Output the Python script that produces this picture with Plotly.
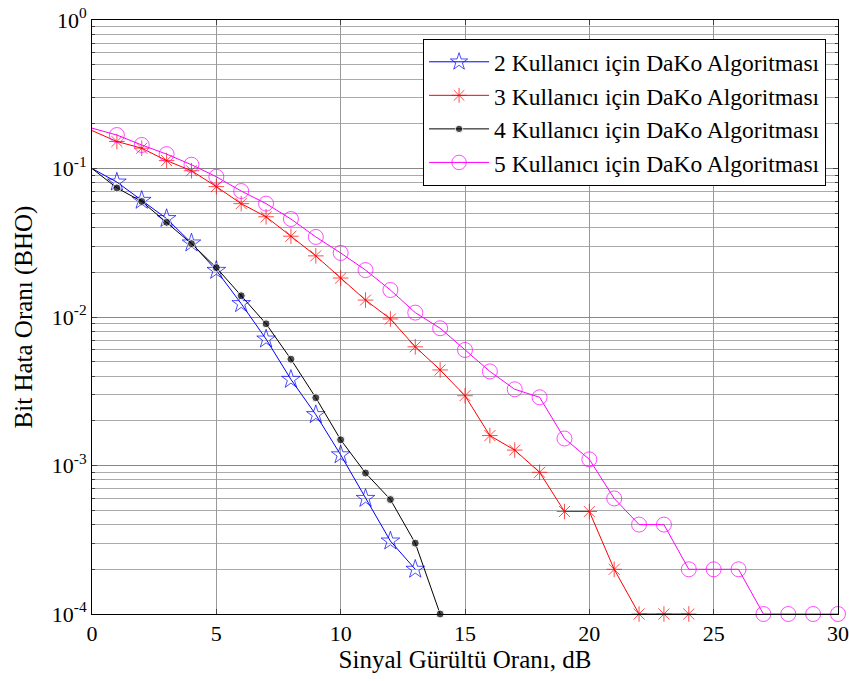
import plotly.graph_objects as go

snr_2 = list(range(0, 14))
ber_2 = [0.1, 0.081, 0.061, 0.046, 0.0315, 0.0206, 0.0123, 0.0071, 0.0038, 0.0022, 0.00118, 0.0006, 0.00031, 0.0002]

snr_3 = list(range(0, 25))
ber_3 = [0.18, 0.152, 0.137, 0.113, 0.0966, 0.0755, 0.058, 0.0473, 0.035, 0.0258, 0.0183, 0.013,
         0.0097, 0.0063, 0.0044, 0.00295, 0.00159, 0.00127, 0.0009, 0.00049, 0.00049, 0.0002,
         0.0001, 0.0001, 0.0001]

snr_4 = list(range(0, 15))
ber_4 = [0.1, 0.074, 0.060, 0.0434, 0.0312, 0.0215, 0.0139, 0.009, 0.0052, 0.00286, 0.00149,
         0.00089, 0.00059, 0.0003, 0.0001]

snr_5 = list(range(0, 31))
ber_5 = [0.187, 0.168, 0.144, 0.125, 0.106, 0.088, 0.0705, 0.058, 0.0457, 0.0346, 0.027, 0.0207,
         0.0152, 0.0107, 0.0084, 0.006, 0.0043, 0.00326, 0.00288, 0.00152, 0.0011, 0.0006, 0.0004,
         0.0004, 0.0002, 0.0002, 0.0002, 0.0001, 0.0001, 0.0001, 0.0001]

names = ["2 Kullanıcı için DaKo Algoritması", "3 Kullanıcı için DaKo Algoritması",
         "4 Kullanıcı için DaKo Algoritması", "5 Kullanıcı için DaKo Algoritması"]

x_ticks = [0, 5, 10, 15, 20, 25, 30]
y_ticks = [1e-4, 1e-3, 1e-2, 1e-1, 1]
y_ticktext = ["10<sup>-4</sup>", "10<sup>-3</sup>", "10<sup>-2</sup>", "10<sup>-1</sup>", "10<sup>0</sup>"]

FONT = "Liberation Serif, Times New Roman, serif"

def sizes(n, s):
    return [0] + [s] * (n - 1)

fig = go.Figure()
fig.add_trace(go.Scatter(x=snr_2, y=ber_2, name=names[0], mode="lines+markers",
                         line=dict(color="#0000ff", width=1),
                         marker=dict(symbol="star-open", size=sizes(len(snr_2), 14), color="#0000ff",
                                     line=dict(width=1)),
                         cliponaxis=False))
fig.add_trace(go.Scatter(x=snr_3, y=ber_3, name=names[1], mode="lines+markers",
                         line=dict(color="#ff0000", width=1),
                         marker=dict(symbol="asterisk-open", size=sizes(len(snr_3), 13), color="#ff0000",
                                     line=dict(width=1, color="#ff0000")),
                         cliponaxis=False))
fig.add_trace(go.Scatter(x=snr_4, y=ber_4, name=names[2], mode="lines+markers",
                         line=dict(color="#000000", width=1),
                         marker=dict(symbol="circle", size=sizes(len(snr_4), 8), color="#000000"),
                         cliponaxis=False))
fig.add_trace(go.Scatter(x=snr_5, y=ber_5, name=names[3], mode="lines+markers",
                         line=dict(color="#ff00ff", width=1),
                         marker=dict(symbol="circle-open", size=sizes(len(snr_5), 15), color="#ff00ff",
                                     line=dict(width=1)),
                         cliponaxis=False))

fig.update_layout(
    width=849, height=681,
    margin=dict(l=92, r=11, t=20, b=67, autoexpand=False),
    paper_bgcolor="white", plot_bgcolor="white",
    font=dict(family=FONT, size=22, color="black"),
    showlegend=True,
    legend=dict(x=0.984, y=0.968, xanchor="right", yanchor="top",
                bgcolor="white", bordercolor="black", borderwidth=1,
                font=dict(family=FONT, size=23.5), tracegroupgap=0, itemwidth=60),
)
fig.update_xaxes(range=[0, 30], tickvals=x_ticks, ticks="inside", ticklen=5,
                 showline=True, linecolor="black", linewidth=1, mirror="allticks",
                 showgrid=True, gridcolor="#999999", gridwidth=1, zeroline=False,
                 automargin=False,
                 title=dict(text="Sinyal Gürültü Oranı, dB", font=dict(family=FONT, size=25), standoff=5),
                 tickfont=dict(family=FONT, size=22))
fig.update_yaxes(type="log", range=[-4, 0], tickvals=y_ticks, ticktext=y_ticktext,
                 ticks="inside", ticklen=5,
                 showline=True, linecolor="black", linewidth=1, mirror="allticks",
                 showgrid=True, gridcolor="#888888", gridwidth=1, zeroline=False,
                 automargin=False,
                 minor=dict(dtick="D1", ticks="inside", ticklen=3, showgrid=True,
                            gridcolor="#aaaaaa", gridwidth=1),
                 title=dict(text="Bit Hata Oranı (BHO)", font=dict(family=FONT, size=25), standoff=12),
                 tickfont=dict(family=FONT, size=22))

fig.write_html("out.html", config={"displayModeBar": False},
               post_script="document.body.style.margin='0px';")
